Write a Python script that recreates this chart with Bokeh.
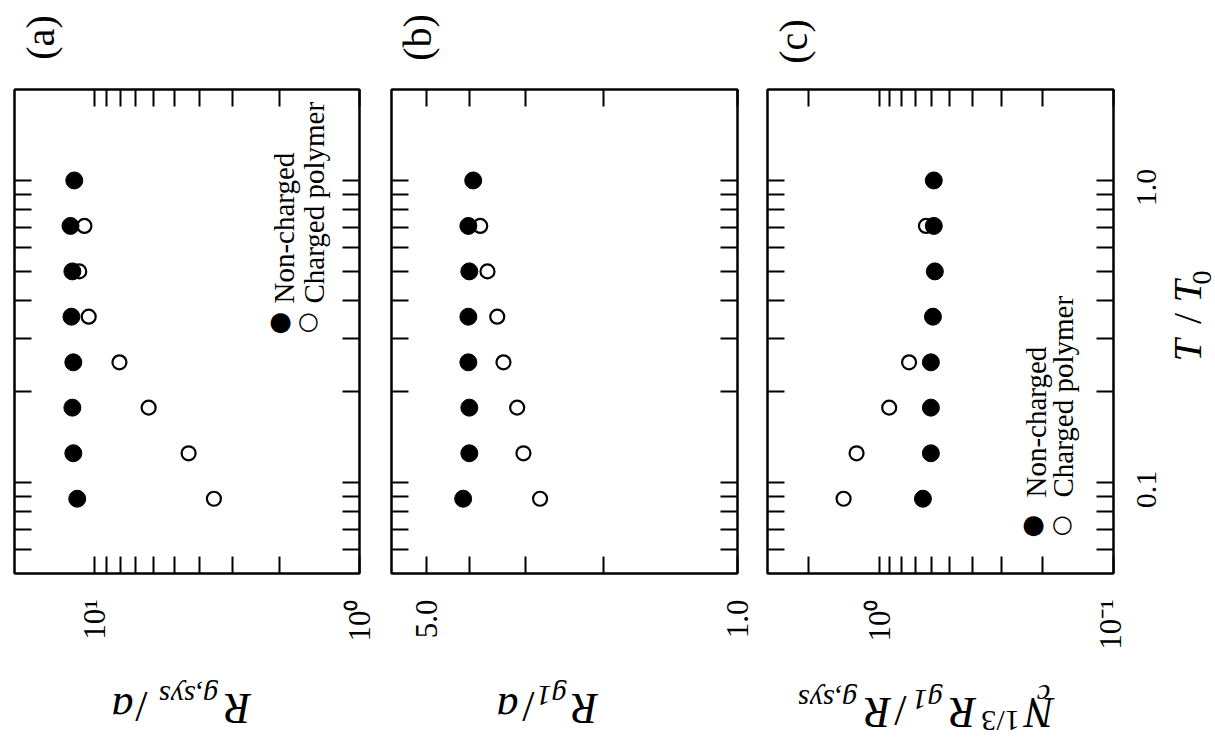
import math
from bokeh.plotting import figure
from bokeh.models import LogAxis, FixedTicker, Range1d, Label
from bokeh.layouts import row, column
from bokeh.embed import file_html
from bokeh.resources import INLINE

# ---------------- data ----------------
T_noncharged = [1.0, 0.707, 0.5, 0.354, 0.25, 0.177, 0.125, 0.0884]
T_charged = [0.707, 0.5, 0.354, 0.25, 0.177, 0.125, 0.0884]

rgsys_noncharged = [11.9, 12.3, 12.1, 12.2, 12.0, 12.1, 12.0, 11.6]
rgsys_charged = [10.9, 11.4, 10.5, 8.04, 6.24, 4.41, 3.54]

rg1_noncharged = [3.93, 4.03, 4.01, 4.03, 4.03, 4.01, 4.01, 4.14]
rg1_charged = [3.79, 3.65, 3.47, 3.36, 3.13, 3.03, 2.78]

ratio_noncharged = [0.585, 0.585, 0.579, 0.590, 0.602, 0.602, 0.602, 0.651]
ratio_charged = [0.632, 0.579, 0.590, 0.746, 0.907, 1.25, 1.42]

# axis ranges and ticks
T_range = (0.05, 2.0)
T_major = [0.1, 1.0]
T_minor = [0.06, 0.07, 0.08, 0.09, 0.2, 0.3, 0.4, 0.5, 0.6, 0.7, 0.8, 0.9]
T_labels = {0.1: "0.1", 1.0: "1.0"}

a_range = (20, 1)
a_major = [1, 10]
a_minor = [2, 3, 4, 5, 6, 7, 8, 9]
a_labels = {10: "10\u00b9", 1: "10\u2070"}

b_range = (6, 1)
b_major = [1, 5]
b_minor = [2, 3, 4]
b_labels = {5: "5.0", 1: "1.0"}

c_range = (3, 0.1)
c_major = [0.1, 1]
c_minor = [0.2, 0.3, 0.4, 0.5, 0.6, 0.7, 0.8, 0.9, 2]
c_labels = {1: "10\u2070", 0.1: "10\u207b\u00b9"}

legend_labels = ["Non-charged", "Charged polymer"]
panel_tags = ["(a)", "(b)", "(c)"]

SERIF = "Liberation Serif"
TOP_H = 85          # strip with the panel tags
ROW_H = 575         # row of the three panels
BOT_H = 82          # strip with the axis titles
FRAME_TOP = 89      # page y of the frames' top edge
FRAME_BOTTOM = 573  # page y of the frames' bottom edge
UP = math.pi / 2
FLIP = math.pi


def style_axis(ax, major, minor, labels, show, orient=math.pi / 2, standoff=0):
    ax.ticker = FixedTicker(ticks=major, minor_ticks=minor)
    ax.major_tick_in = 17
    ax.major_tick_out = 0
    ax.minor_tick_in = 17
    ax.minor_tick_out = 0
    ax.major_tick_line_width = 2
    ax.minor_tick_line_width = 2
    ax.major_tick_line_color = "black"
    ax.minor_tick_line_color = "black"
    ax.axis_line_width = 2
    ax.axis_line_color = "black"
    ax.major_label_overrides = labels
    if show:
        ax.major_label_text_font = SERIF
        ax.major_label_text_font_size = "31px"
        ax.major_label_text_color = "black"
        ax.major_label_orientation = orient
        ax.major_label_standoff = standoff
    else:
        ax.major_label_text_font_size = "1px"
        ax.major_label_text_color = None
        ax.major_label_standoff = 0


def make_panel(xr, width, bl, br, major, minor, labels):
    p = figure(width=width, height=ROW_H, x_axis_type="log", y_axis_type="log",
               x_range=Range1d(*xr), y_range=Range1d(*T_range),
               output_backend="svg", toolbar_location=None, title=None,
               min_border_left=bl, min_border_right=br,
               min_border_top=FRAME_TOP - TOP_H,
               min_border_bottom=TOP_H + ROW_H - FRAME_BOTTOM)
    p.grid.visible = False
    p.outline_line_color = "black"
    p.outline_line_width = 2
    p.background_fill_color = "white"
    p.border_fill_color = "white"
    p.add_layout(LogAxis(), "above")
    p.add_layout(LogAxis(), "right")
    style_axis(p.below[0], major, minor, labels, True, math.pi / 2, 26)
    style_axis(p.above[0], major, minor, labels, False)
    style_axis(p.left[0], T_major, T_minor, T_labels, False)
    style_axis(p.right[0], T_major, T_minor, T_labels, False)
    return p


def make_strip(width, height, top=0, bottom=0, ylog=False):
    p = figure(width=width, height=height, x_range=Range1d(0, 1),
               y_range=Range1d(*T_range) if ylog else Range1d(0, 1),
               y_axis_type="log" if ylog else "linear",
               x_axis_location=None, y_axis_location=None,
               output_backend="svg", toolbar_location=None, title=None,
               min_border_left=0, min_border_right=0,
               min_border_top=top, min_border_bottom=bottom)
    p.grid.visible = False
    p.outline_line_color = None
    p.background_fill_color = "white"
    p.border_fill_color = "white"
    return p


def put(p, fx, fy, X, Y, text, size, angle, align="center", style="normal", font=SERIF):
    """Place a text at page pixel (X, Y); (fx, fy) = page pixel of the frame's bottom-left."""
    p.add_layout(Label(x=X - fx, y=fy - Y, x_units="screen", y_units="screen",
                       text=text, angle=angle, text_align=align, text_baseline="middle",
                       text_font=font, text_font_size=f"{size}px", text_font_style=style,
                       text_color="black"))


# ---------------- panel (a) ----------------
pa = make_panel(a_range, 378, 14, 19, a_major, a_minor, a_labels)
pa.scatter(x=rgsys_charged, y=T_charged, size=14, fill_color="white", line_color="black", line_width=2.2)
pa.scatter(x=rgsys_noncharged, y=T_noncharged, size=17, fill_color="black", line_color="black")
fa = (14, FRAME_BOTTOM)
put(pa, *fa, 280, 320, "\u25cf", 26, 0, font="DejaVu Sans")
put(pa, *fa, 308, 320, "\u25cb", 24, 0, style="bold", font="DejaVu Sans")
put(pa, *fa, 283, 303, legend_labels[0], 29, UP, align="left")
put(pa, *fa, 313, 303, legend_labels[1], 29, UP, align="left")

# ---------------- panel (b) ----------------
pb = make_panel(b_range, 377, 13, 18, b_major, b_minor, b_labels)
pb.scatter(x=rg1_charged, y=T_charged, size=14, fill_color="white", line_color="black", line_width=2.2)
pb.scatter(x=rg1_noncharged, y=T_noncharged, size=17, fill_color="black", line_color="black")

# ---------------- panel (c) ----------------
pc = make_panel(c_range, 372, 12, 14, c_major, c_minor, c_labels)
pc.scatter(x=ratio_charged, y=T_charged, size=14, fill_color="white", line_color="black", line_width=2.2)
pc.scatter(x=ratio_noncharged, y=T_noncharged, size=17, fill_color="black", line_color="black")
fc = (755 + 12, FRAME_BOTTOM)
put(pc, *fc, 1033, 523, "\u25cf", 26, 0, font="DejaVu Sans")
put(pc, *fc, 1062, 523, "\u25cb", 24, 0, style="bold", font="DejaVu Sans")
put(pc, *fc, 1035, 497, legend_labels[0], 29, UP, align="left")
put(pc, *fc, 1062, 497, legend_labels[1], 29, UP, align="left")

# ---------------- right strip: T/T0 tick labels and title ----------------
RX0 = 1127
pr = make_strip(1215 - RX0, ROW_H, top=FRAME_TOP - TOP_H, bottom=TOP_H + ROW_H - FRAME_BOTTOM, ylog=True)
for tv in T_major:
    pr.add_layout(Label(x=1146 - RX0, y=tv, x_units="screen", y_units="data", y_offset=-7,
                        text=T_labels[tv], angle=UP, text_align="center", text_baseline="middle",
                        text_font=SERIF, text_font_size="30px", text_color="black"))
fr = (RX0, FRAME_BOTTOM)
put(pr, *fr, 1187, 350, "T", 40, UP, style="italic")
put(pr, *fr, 1187, 318, "/", 40, UP)
put(pr, *fr, 1187, 291, "T", 40, UP, style="italic")
put(pr, *fr, 1201, 277, "0", 28, UP)

# ---------------- top strip: panel tags ----------------
pt = make_strip(1215, TOP_H)
ft = (0, TOP_H)
put(pt, *ft, 40, 37, panel_tags[0], 40, UP)
put(pt, *ft, 417, 37, panel_tags[1], 40, UP)
put(pt, *ft, 793, 41, panel_tags[2], 40, UP)

# ---------------- bottom strip: axis titles (rotated 180 degrees) ----------------
pbt = make_strip(1215, BOT_H)
fb = (0, 742)
# R_{g,sys}/a
put(pbt, *fb, 237, 708, "R", 44, FLIP, style="italic")
put(pbt, *fb, 188, 696, "g,sys", 30, FLIP, style="italic")
put(pbt, *fb, 141, 706, "/", 44, FLIP)
put(pbt, *fb, 122, 708, "a", 44, FLIP, style="italic")
# R_{g1}/a
put(pbt, *fb, 584, 708, "R", 44, FLIP, style="italic")
put(pbt, *fb, 551, 696, "g1", 30, FLIP, style="italic")
put(pbt, *fb, 528, 706, "/", 44, FLIP)
put(pbt, *fb, 507, 708, "a", 44, FLIP, style="italic")
# N_c^{1/3} R_{g1} / R_{g,sys}
put(pbt, *fb, 1039, 712, "N", 44, FLIP, style="italic")
put(pbt, *fb, 1043, 695, "c", 30, FLIP, style="italic")
put(pbt, *fb, 1000, 721, "1/3", 30, FLIP)
put(pbt, *fb, 962, 712, "R", 44, FLIP, style="italic")
put(pbt, *fb, 927, 700, "g1", 30, FLIP, style="italic")
put(pbt, *fb, 900, 710, "/", 44, FLIP)
put(pbt, *fb, 877, 712, "R", 44, FLIP, style="italic")
put(pbt, *fb, 827, 700, "g,sys", 30, FLIP, style="italic")

layout = column(pt, row(pa, pb, pc, pr), pbt)
open("out.html", "w").write(file_html(layout, INLINE))
